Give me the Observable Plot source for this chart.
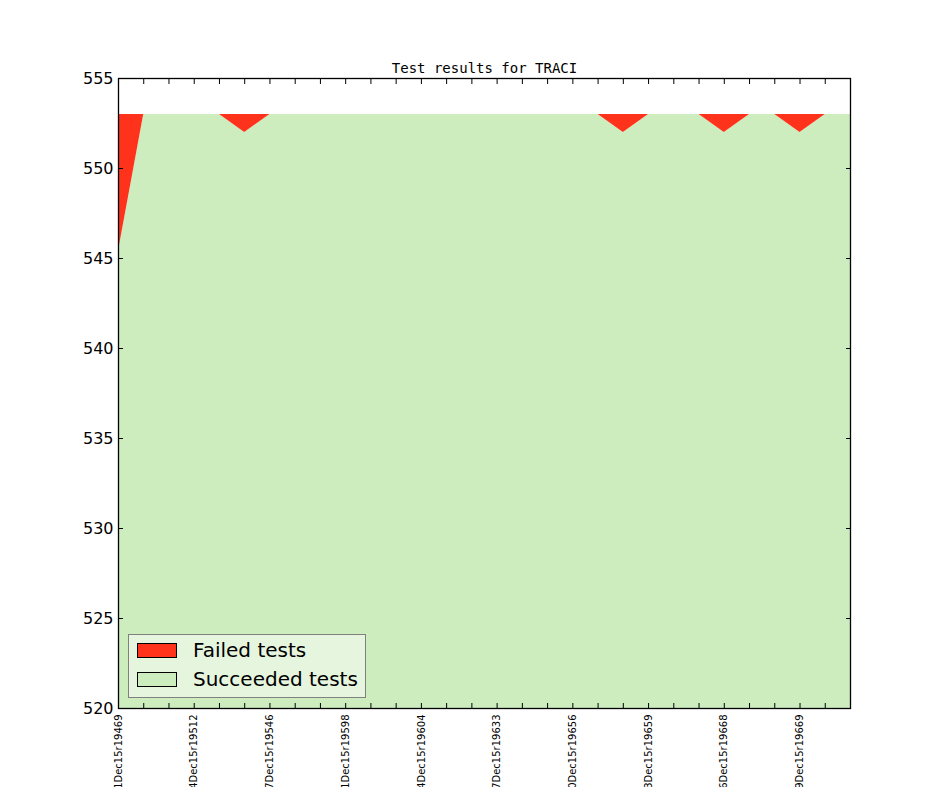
<!DOCTYPE html>
<html>
<head>
<meta charset="utf-8">
<script src="https://cdn.jsdelivr.net/npm/d3@7"></script>
<script src="https://cdn.jsdelivr.net/npm/@observablehq/plot@0.6"></script>
<style>
  html, body { margin: 0; padding: 0; background: #fff; overflow: hidden; }
  #wrap { position: relative; width: 944px; height: 787px; }
  .legend { position: absolute; left: 128px; top: 634px; width: 238px; height: 64px;
            box-sizing: border-box; background: #e6f5de; border: 1px solid #808080;
            font-family: "DejaVu Sans"; font-size: 20px; color: #000; }
  .sw { position: absolute; left: 8px; width: 40px; height: 15px; box-sizing: border-box; border: 1px solid #000; }
  .lab { position: absolute; left: 64px; line-height: 20px; white-space: nowrap; }
</style>
</head>
<body>
<div id="wrap"></div>
<script>
// ---- data ----
const runIndex = [0,1,2,3,4,5,6,7,8,9,10,11,12,13,14,15,16,17,18,19,20,21,22,23,24,25,26,27,28,29];
const succeeded = [545.4,553,553,553,553,552,553,553,553,553,553,553,553,553,553,553,553,553,553,553,552,553,553,553,552,553,553,552,553,553];
const failed    = [7.6,0,0,0,0,1,0,0,0,0,0,0,0,0,0,0,0,0,0,0,1,0,0,0,1,0,0,1,0,0];
const labelIdx  = [0,3,6,9,12,15,18,21,24,27];
const labels    = ["01Dec15r19469","04Dec15r19512","07Dec15r19546","11Dec15r19598","14Dec15r19604",
                   "17Dec15r19633","20Dec15r19656","23Dec15r19659","26Dec15r19668","29Dec15r19669"];
const yTicks    = [520,525,530,535,540,545,550,555];
const seriesNames = ["Failed tests","Succeeded tests"];
const colors = {failed: "#ff331c", succeeded: "#cdedbe"};

const rows = runIndex.map((x, i) => ({x, s: succeeded[i], f: failed[i]}));

const chart = Plot.plot({
  width: 944,
  height: 787,
  marginLeft: 118,
  marginRight: 94,
  marginTop: 78,
  marginBottom: 79,
  style: {fontFamily: "DejaVu Sans", fontSize: "16px", color: "#000", background: "#fff"},
  x: {domain: [0, 29], label: null},
  y: {domain: [520, 555], label: null},
  marks: [
    Plot.areaY(rows, {x: "x", y1: 0, y2: "s", fill: colors.succeeded, clip: true}),
    Plot.areaY(rows, {x: "x", y1: "s", y2: d => d.s + d.f, fill: colors.failed, clip: true}),
    Plot.axisY({anchor: "left", ticks: yTicks, tickSize: 0, tickPadding: 5, fontSize: 16}),
    Plot.axisY({anchor: "left", ticks: yTicks, tickSize: -5, tickFormat: () => ""}),
    Plot.axisY({anchor: "right", ticks: yTicks, tickSize: -5, tickFormat: () => ""}),
    Plot.axisX({anchor: "bottom", ticks: runIndex, tickSize: -5, tickFormat: () => ""}),
    Plot.axisX({anchor: "top", ticks: runIndex, tickSize: -5, tickFormat: () => ""}),
    Plot.axisX({anchor: "bottom", ticks: labelIdx, tickSize: 0, tickPadding: 6, tickRotate: -90,
                fontSize: 10, tickFormat: i => labels[labelIdx.indexOf(i)]}),
    Plot.frame({stroke: "#000", strokeWidth: 1.3}),
    Plot.text(["Test results for TRACI"], {text: d => d, frameAnchor: "top", lineAnchor: "bottom", dy: -6,
               fontFamily: "DejaVu Sans Mono", fontSize: 14, fill: "#000"})
  ]
});

const wrap = document.getElementById("wrap");
wrap.appendChild(chart);

// legend
const leg = document.createElement("div");
leg.className = "legend";
const items = [
  {name: seriesNames[0], color: colors.failed, top: 8},
  {name: seriesNames[1], color: colors.succeeded, top: 37}
];
for (const it of items) {
  const sw = document.createElement("div");
  sw.className = "sw";
  sw.style.top = it.top + "px";
  sw.style.background = it.color;
  leg.appendChild(sw);
  const lb = document.createElement("div");
  lb.className = "lab";
  lb.style.top = (it.top - 3) + "px";
  lb.textContent = it.name;
  leg.appendChild(lb);
}
wrap.appendChild(leg);
</script>
</body>
</html>
